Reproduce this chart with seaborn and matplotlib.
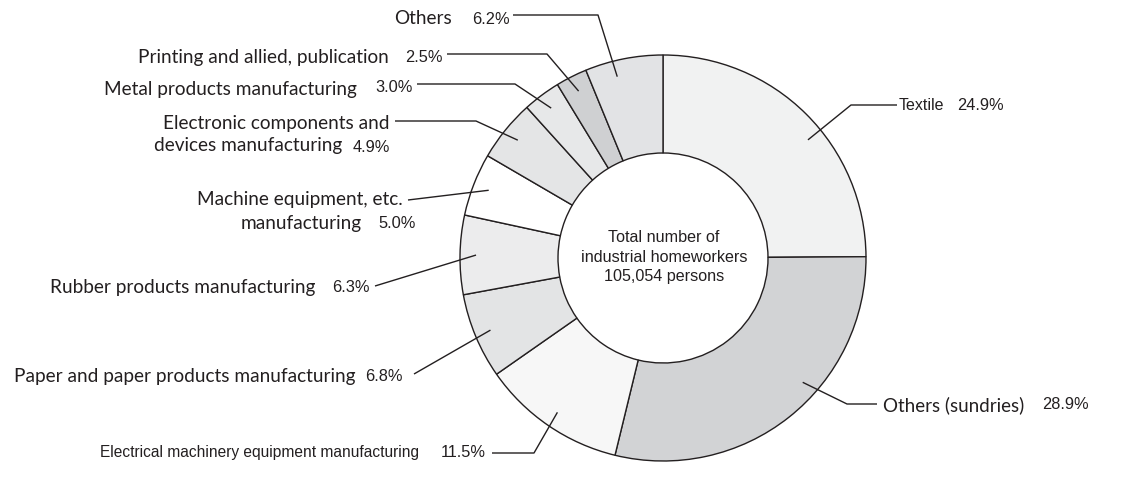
import numpy as np
import matplotlib
matplotlib.use("Agg")
import matplotlib.pyplot as plt
import seaborn as sns

# ---- data -------------------------------------------------------------
industries = [
    "Textile",
    "Others (sundries)",
    "Electrical machinery equipment manufacturing",
    "Paper and paper products manufacturing",
    "Rubber products manufacturing",
    "Machine equipment, etc.\nmanufacturing",
    "Electronic components and\ndevices manufacturing",
    "Metal products manufacturing",
    "Printing and allied, publication",
    "Others",
]
shares = [24.9, 28.9, 11.5, 6.8, 6.3, 5.0, 4.9, 3.0, 2.5, 6.2]
total_persons = 105054
center_caption = ["Total number of", "industrial homeworkers",
                  f"{total_persons:,} persons"]

# ---- style ------------------------------------------------------------
fills = ["#f1f2f2", "#d2d3d5", "#f7f7f7", "#e3e4e5", "#ececed",
         "#ffffff", "#e4e5e6", "#e7e8e9", "#cfd0d2", "#e2e3e5"]
edge = "#231f20"
sns.set_theme(style="white")
plt.rcParams["font.family"] = ["Liberation Sans", "DejaVu Sans"]
HUMANIST = ["Lato", "DejaVu Sans"]
ARIAL = ["Liberation Sans", "DejaVu Sans"]

W, H = 1144, 481
fig = plt.figure(figsize=(W / 100, H / 100), dpi=100)
fig.patch.set_facecolor("white")
ax = fig.add_axes([0, 0, 1, 1])


def py(y):
    """Pixel row (from top) to axis y."""
    return H - y


cx, cy, R, ring = 663, 259, 203, 98
wedges, _ = ax.pie(
    shares, startangle=90, counterclock=False, colors=fills,
    center=(cx, py(cy)), radius=R, frame=True,
    wedgeprops=dict(width=ring, edgecolor=edge, linewidth=1.0),
)
ax.set_xlim(0, W)
ax.set_ylim(0, H)
ax.set_axis_off()

for i, line in enumerate(center_caption):
    ax.text(cx + 1, py(238 + 19 * i), line, ha="center", va="center",
            fontsize=11.6, family=ARIAL, color="#231f20")

# ---- labels and leader lines -------------------------------------------
# (name x, name y, name align, name font, name size, pct x, pct y,
#  text-end point, elbow point or None, angular nudge of the anchor)
layout = [
    (899, 106, "left", ARIAL, 11.5, 957, 106, (897, 106), (851, 106), -6),
    (883, 405, "left", HUMANIST, 13.5, 1042, 405, (877, 405), (847, 405), 10),
    (419, 453, "right", ARIAL, 11.2, 441, 453, (492, 454), (534, 454), 0),
    (355, 377, "right", HUMANIST, 13.7, 365, 377, (414, 375), None, 0),
    (315, 287, "right", HUMANIST, 13.7, 332, 287, (375, 287), None, 0),
    (403, 200, "right", HUMANIST, 13.7, 378, 223, (408, 201), None, 0),
    (389, 123, "right", HUMANIST, 13.7, 353, 147, (395, 122), (476, 122), 0),
    (357, 89, "right", HUMANIST, 13.7, 375, 87, (417, 85), (515, 85), 0),
    (389, 57, "right", HUMANIST, 13.7, 405, 57, (447, 55), (547, 55), 0),
    (452, 19, "right", HUMANIST, 13.7, 472, 19, (513, 16), (598, 16), 3),
]
second_line_right = {5: 362, 6: 342}

for i, (name, share, w) in enumerate(zip(industries, shares, wedges)):
    nx, ny, nha, nfont, size, px_, pyy, tend, elbow, nudge = layout[i]
    lines = name.split("\n")
    ax.text(nx, py(ny), lines[0], ha=nha, va="center", fontsize=size,
            family=nfont, color="#231f20")
    if len(lines) > 1:
        ax.text(second_line_right[i], py(ny + 23), lines[1], ha="right",
                va="center", fontsize=size, family=nfont, color="#231f20")
    ax.text(px_, py(pyy), f"{share:.1f}%", ha="left", va="center",
            fontsize=11.8, family=ARIAL, color="#231f20")

    mid = np.deg2rad((w.theta1 + w.theta2) / 2 + nudge)
    r_anchor = R - 16
    ax_pt = (cx + r_anchor * np.cos(mid), py(cy) + r_anchor * np.sin(mid))
    pts = [(tend[0], py(tend[1]))]
    if elbow is not None:
        pts.append((elbow[0], py(elbow[1])))
    pts.append(ax_pt)
    xs, ys = zip(*pts)
    ax.plot(xs, ys, color=edge, linewidth=1.0, solid_capstyle="butt")

fig.savefig("out.png", dpi=100, facecolor="white")
